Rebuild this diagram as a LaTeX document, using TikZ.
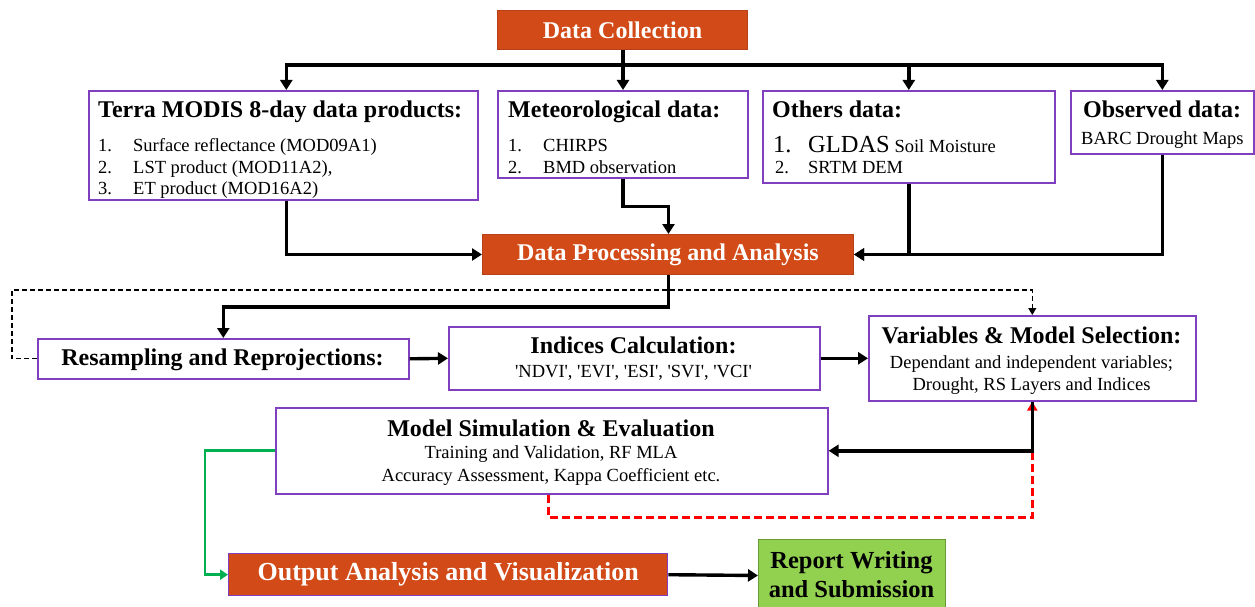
\documentclass[tikz,border=0pt]{standalone}
\usepackage{fontspec}
\setmainfont{Liberation Serif}
\usetikzlibrary{arrows.meta}
\definecolor{orng}{HTML}{D24A18}
\definecolor{orngd}{HTML}{B5401A}
\definecolor{purp}{HTML}{7F3FBF}
\definecolor{grnfill}{HTML}{92D050}
\definecolor{grnd}{HTML}{6A9A35}
\definecolor{grnline}{HTML}{00B050}
\definecolor{rd}{HTML}{FF0000}
\newcommand\ttl{\fontsize{24}{28}\selectfont\bfseries}
\newcommand\itm{\fontsize{18.5}{22}\selectfont}
\newcommand\sq{\textquotesingle}
\tikzset{
  box/.style={draw=purp, line width=1.6pt, fill=white, anchor=north west, inner sep=0pt},
  obox/.style={draw=orngd, line width=1pt, fill=orng, text=white, anchor=north west, inner sep=0pt, align=center, font=\ttl},
  lbl/.style={inner sep=0pt, font=\itm},
  tl/.style={inner sep=0pt, font=\ttl},
  conn/.style={line width=3.4pt, -{Triangle[length=10pt,width=12pt]}},
  dsh/.style={line width=1.3pt, dash pattern=on 5pt off 3pt, -{Triangle[length=7pt,width=8pt]}},
}
\begin{document}
\begin{tikzpicture}[x=1pt,y=-1pt]
\useasboundingbox (0,0) rectangle (1255,607);
% orange / green boxes
\node[obox, minimum width=250pt, minimum height=39pt] (dc) at (497,10) {Data Collection};
\node[obox, minimum width=371pt, minimum height=40pt] (dp) at (482,234) {Data Processing and Analysis};
\node[obox, draw=purp, line width=1.4pt, font=\fontsize{26}{30}\selectfont\bfseries, minimum width=439pt, minimum height=42pt] (out) at (228,553) {Output Analysis and Visualization};
\node[draw=grnd, line width=1pt, fill=grnfill, anchor=north west, inner sep=0pt, minimum width=187pt, minimum height=72pt] (rep) at (758,539) {};
\node[tl, font=\fontsize{24.5}{28}\selectfont\bfseries, anchor=base] (rep1) at (851.5,568) {Report Writing};
\node[tl, font=\fontsize{24.5}{28}\selectfont\bfseries, anchor=base] (rep2) at (851.5,597) {and Submission};
% data boxes
\node[box, minimum width=389pt, minimum height=109pt] (terra) at (88,90) {};
\node[box, minimum width=250pt, minimum height=87pt] (met) at (497,90) {};
\node[box, minimum width=292pt, minimum height=92pt] (oth) at (762,90) {};
\node[box, minimum width=183pt, minimum height=63pt] (obs) at (1070,90) {};
% terra text
\node[tl, anchor=base west] (terraT) at (98,118) {Terra MODIS 8-day data products:};
\node[lbl, anchor=base west] (terraN1) at (98,151.5) {1.};
\node[lbl, anchor=base west] (terraI1) at (133,151.5) {Surface reflectance\ (MOD09A1)};
\node[lbl, anchor=base west] (terraN2) at (98,173) {2.};
\node[lbl, anchor=base west] (terraI2) at (133,173) {LST product\ (MOD11A2),};
\node[lbl, anchor=base west] (terraN3) at (98,194.5) {3.};
\node[lbl, anchor=base west] (terraI3) at (133,194.5) {ET product\ (MOD16A2)};
% meteo text
\node[tl, anchor=base west] (metT) at (508,118) {Meteorological data:};
\node[lbl, anchor=base west] (metN1) at (508,151.5) {1.};
\node[lbl, anchor=base west] (metI1) at (543,151.5) {CHIRPS};
\node[lbl, anchor=base west] (metN2) at (508,173) {2.};
\node[lbl, anchor=base west] (metI2) at (543,173) {BMD observation};
% others text
\node[tl, anchor=base west] (othT) at (772,118) {Others data:};
\node[lbl, font=\fontsize{24.5}{28}\selectfont, anchor=base west] (othN1) at (773,152) {1.};
\node[lbl, anchor=base west] (othI1) at (808,152) {{\fontsize{24.5}{28}\selectfont GLDAS} Soil Moisture};
\node[lbl, anchor=base west] (othN2) at (775,173) {2.};
\node[lbl, anchor=base west] (othI2) at (808,173) {SRTM DEM};
% observed text
\node[tl, anchor=base west] (obsT) at (1083,118) {Observed data:};
\node[lbl, anchor=base west] (obsI) at (1081,145) {BARC Drought Maps};
% processing boxes
\node[box, minimum width=371pt, minimum height=40pt] (res) at (37,338) {};
\node[tl, anchor=base] (resT) at (222.5,365) {Resampling and Reprojections:};
\node[box, minimum width=371pt, minimum height=63pt] (idx) at (448,326) {};
\node[tl, anchor=base] (idxT) at (633.5,353) {Indices Calculation:};
\node[lbl, anchor=base] (idxI) at (633.5,377) {\sq NDVI\sq, \sq EVI\sq, \sq ESI\sq, \sq SVI\sq, \sq VCI\sq};
\node[box, minimum width=327pt, minimum height=85pt] (var) at (868,315) {};
\node[tl, anchor=base] (varT) at (1031.5,343) {Variables \& Model Selection:};
\node[lbl, anchor=base] (varI1) at (1031.5,368) {Dependant and independent variables;};
\node[lbl, anchor=base] (varI2) at (1031.5,390) {Drought, RS Layers and Indices};
\node[box, minimum width=552pt, minimum height=86pt] (mod) at (275,407) {};
\node[tl, anchor=base] (modT) at (551,436) {Model Simulation \& Evaluation};
\node[lbl, anchor=base] (modI1) at (551,458.5) {Training and Validation, RF MLA};
\node[lbl, anchor=base] (modI2) at (551,481) {Accuracy Assessment, Kappa Coefficient etc.};
% connectors: collection
\coordinate (jn) at (623,65);
\draw[conn] (dc.south -| jn) -- (jn |- met.north);
\draw[conn] (jn) -| ([xshift=3pt]terra.north);
\draw[conn] (jn) -| (oth.north);
\draw[conn] (jn) -| (obs.north);
% into processing
\draw[conn] ([xshift=3pt]terra.south) |- (dp.west);
\draw[conn] (met.south -| jn) -- ++(0,28) -| ([xshift=0.5pt]dp.north);
\draw[conn] (oth.south) |- (dp.east);
\draw[conn] (obs.south) |- (dp.east);
% processing to resampling
\draw[conn] ([xshift=0.5pt]dp.south) -- ++(0,32) -| (res.north);
\draw[dsh] (res.west) -- ++(-25,0) |- ([yshift=25pt]var.north) -- (var.north);
\draw[conn] (res.east) -- (idx.west);
\draw[conn] (idx.east) -- (var.west);
% model
\draw[rd, line width=2.8pt, dash pattern=on 8pt off 4pt, -{Triangle[length=9pt,width=10pt]}] ([xshift=-3pt]mod.south) -- ++(0,23) -| (var.south);
\draw[conn] (var.south) |- (mod.east);
\draw[grnline, line width=2.8pt, -{Triangle[length=8pt,width=10pt]}] (mod.west) -- ++(-70,0) |- (out.west);
\draw[conn] (out.east) -- (rep.west);
\end{tikzpicture}
\end{document}
